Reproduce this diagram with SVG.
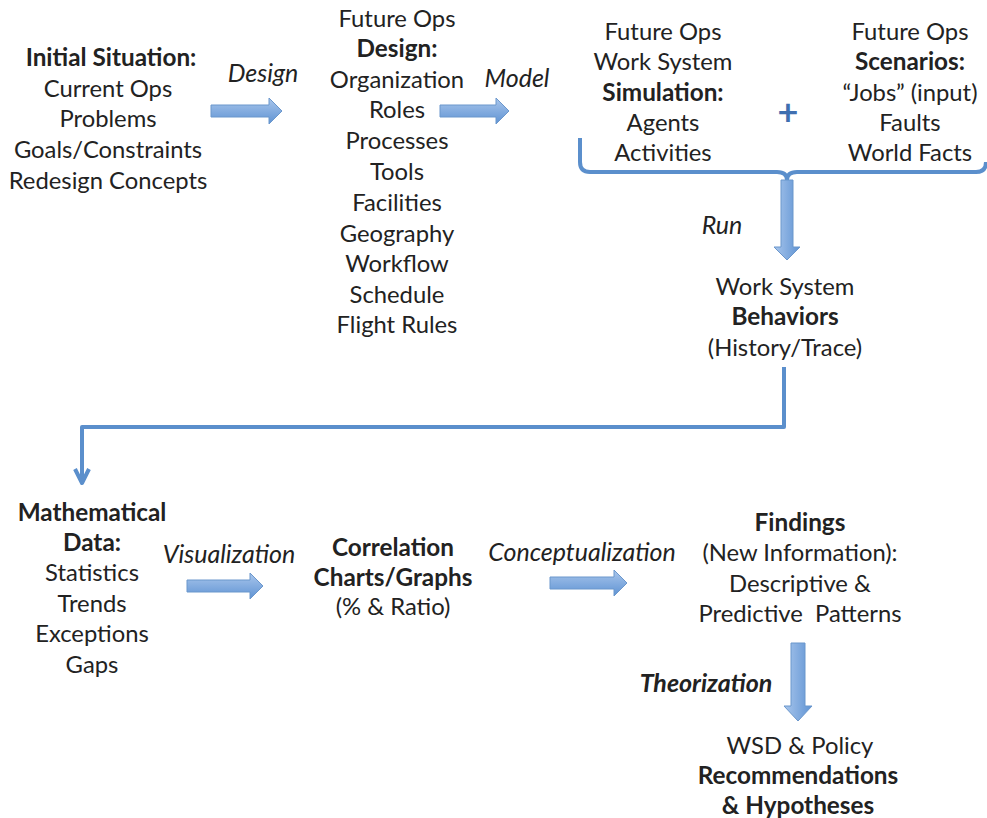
<svg xmlns="http://www.w3.org/2000/svg" width="987" height="818" viewBox="0 0 987 818">
<defs>
<linearGradient id="gh" x1="0" y1="0" x2="0" y2="1">
<stop offset="0" stop-color="#a9c6ec"/>
<stop offset="1" stop-color="#5f93d3"/>
</linearGradient>
<linearGradient id="gv" x1="0" y1="0" x2="1" y2="0">
<stop offset="0" stop-color="#a9c6ec"/>
<stop offset="1" stop-color="#5f93d3"/>
</linearGradient>
<style>
text{font-family:Lato,"Open Sans","Liberation Sans",sans-serif;font-size:23.8px;fill:#222;text-anchor:middle}
.b{font-weight:bold;font-size:24.3px}
.i{font-style:italic;font-size:25px}
.ha{fill:url(#gh);stroke:#6b97cc;stroke-width:1}
.va{fill:url(#gv);stroke:#6b97cc;stroke-width:1}
.ln{fill:none;stroke:#5b8fcc;stroke-width:4;stroke-linejoin:round}
</style>
</defs>
<rect width="987" height="818" fill="#fff"/>
<g id="initial">
<text x="111" y="66" class="b">Initial Situation:</text>
<text x="108" y="97">Current Ops</text>
<text x="108" y="127">Problems</text>
<text x="108" y="158">Goals/Constraints</text>
<text x="108" y="189">Redesign Concepts</text>
</g>
<g id="design">
<text x="397" y="27">Future Ops</text>
<text x="397" y="57" class="b">Design:</text>
<text x="397" y="88">Organization</text>
<text x="397" y="118">Roles</text>
<text x="397" y="149">Processes</text>
<text x="397" y="180">Tools</text>
<text x="397" y="211">Facilities</text>
<text x="397" y="242">Geography</text>
<text x="397" y="272">Workflow</text>
<text x="397" y="303">Schedule</text>
<text x="397" y="333">Flight Rules</text>
</g>
<g id="simulation">
<text x="663" y="40">Future Ops</text>
<text x="663" y="70">Work System</text>
<text x="663" y="101" class="b">Simulation:</text>
<text x="663" y="131">Agents</text>
<text x="663" y="161">Activities</text>
</g>
<g id="scenarios">
<text x="910" y="40">Future Ops</text>
<text x="910" y="70" class="b">Scenarios:</text>
<text x="910" y="101">“Jobs” (input)</text>
<text x="910" y="131">Faults</text>
<text x="910" y="161">World Facts</text>
</g>
<g id="plus">
<text x="788" y="125" class="b" style="fill:#3f6fb0;font-size:36px">+</text>
</g>
<g id="behaviors">
<text x="785" y="295">Work System</text>
<text x="785" y="325" class="b">Behaviors</text>
<text x="785" y="356">(History/Trace)</text>
</g>
<g id="mathdata">
<text x="92" y="521" class="b">Mathematical</text>
<text x="92" y="551" class="b">Data:</text>
<text x="92" y="581">Statistics</text>
<text x="92" y="612">Trends</text>
<text x="92" y="642">Exceptions</text>
<text x="92" y="673">Gaps</text>
</g>
<g id="charts">
<text x="393" y="556" class="b">Correlation</text>
<text x="393" y="586" class="b">Charts/Graphs</text>
<text x="393" y="615">(% &amp; Ratio)</text>
</g>
<g id="findings">
<text x="800" y="531" class="b">Findings</text>
<text x="800" y="561">(New Information):</text>
<text x="800" y="592">Descriptive &amp;</text>
<text x="800" y="622" style="white-space:pre">Predictive  Patterns</text>
</g>
<g id="recommendations">
<text x="800" y="754">WSD &amp; Policy</text>
<text x="798" y="784" class="b">Recommendations</text>
<text x="798" y="814" class="b">&amp; Hypotheses</text>
</g>
<g id="connectors">
<path class="ha" d="M211,105 H269 V98 L282,111 L269,124 V117 H211 Z"/>
<text x="263" y="82" class="i">Design</text>
<path class="ha" d="M440,105 H496 V98 L509,111 L496,124 V117 H440 Z"/>
<text x="517" y="87" class="i">Model</text>
<path class="ln" d="M580,138 V162 Q580,172 590,172 H777 Q787,172 787,180 Q787,172 797,172 H976 Q986,172 986,162"/>
<path class="va" d="M781,180 H793 V247 H800 L787,260 L774,247 H781 Z"/>
<text x="722" y="234" class="i">Run</text>
<path class="ln" d="M784,367 V427 H82 V483"/>
<path class="ln" d="M75,469 L82,483 L89,469" stroke-linejoin="miter"/>
<path class="ha" d="M187,580 H250 V573 L263,586 L250,599 V592 H187 Z"/>
<text x="229" y="563" class="i">Visualization</text>
<path class="ha" d="M550,577 H614 V570 L627,583 L614,596 V589 H550 Z"/>
<text x="582" y="561" class="i">Conceptualization</text>
<path class="va" d="M791,643 H805 V706 H812 L798,721 L784,706 H791 Z"/>
<text x="706" y="692" class="b i" style="font-size:25px">Theorization</text>
</g>
</svg>
